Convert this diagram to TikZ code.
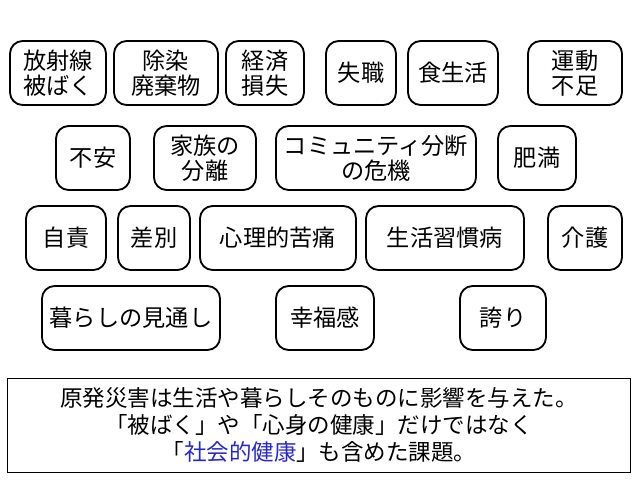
\documentclass[tikz,border=0pt]{standalone}
\usepackage{fontspec}
\setmainfont{Noto Sans CJK JP}
\usetikzlibrary{positioning}
\definecolor{kenkoblue}{RGB}{40,40,200}
\tikzset{issue box/.style={draw,line width=1.3pt,rounded corners=9pt,text centered,
    align=center,inner sep=0pt,font=\fontsize{16.5}{18}\selectfont}, }
\tikzset{summary box/.style={draw,line width=0.6pt,align=center,inner sep=0pt,
    font=\fontsize{16}{19.5}\selectfont}, }
\begin{document}
\begin{tikzpicture}[x=0.025cm,y=-0.025cm]
  \useasboundingbox (0,0) rectangle (640,480);
  % row 1
  \node[issue box,minimum width=2.4cm,minimum height=1.6cm] (hibaku) at (58,73) {放射線\\被ばく};
  \node[issue box,minimum width=2.6cm,minimum height=1.6cm] (josen) at (166,73) {除染\\廃棄物};
  \node[issue box,minimum width=1.95cm,minimum height=1.6cm] (keizai) at (265,73) {経済\\損失};
  \node[issue box,minimum width=1.75cm,minimum height=1.6cm] (shissyoku) at (361,73) {失職};
  \node[issue box,minimum width=2.25cm,minimum height=1.6cm] (shoku) at (453,73) {食生活};
  \node[issue box,minimum width=2.35cm,minimum height=1.6cm] (undou) at (575,73) {運動\\不足};
  % row 2
  \node[issue box,minimum width=1.85cm,minimum height=1.6cm] (fuan) at (93,158) {不安};
  \node[issue box,minimum width=2.55cm,minimum height=1.6cm] (kazoku) at (205,158) {家族の\\分離};
  \node[issue box,minimum width=5cm,minimum height=1.6cm] (community) at (376,158) {コミュニティ分断\\の危機};
  \node[issue box,minimum width=1.95cm,minimum height=1.6cm] (himan) at (537,158) {肥満};
  % row 3
  \node[issue box,minimum width=2cm,minimum height=1.6cm] (jiseki) at (66,238) {自責};
  \node[issue box,minimum width=1.8cm,minimum height=1.6cm] (sabetsu) at (154,238) {差別};
  \node[issue box,minimum width=3.9cm,minimum height=1.6cm] (shinri) at (278,238) {心理的苦痛};
  \node[issue box,minimum width=3.95cm,minimum height=1.6cm] (shuukan) at (445,238) {生活習慣病};
  \node[issue box,minimum width=1.85cm,minimum height=1.6cm] (kaigo) at (585,238) {介護};
  % row 4
  \node[issue box,minimum width=4.45cm,minimum height=1.6cm] (mitoshi) at (131,318) {暮らしの見通し};
  \node[issue box,minimum width=2.45cm,minimum height=1.6cm] (koufuku) at (325,318) {幸福感};
  \node[issue box,minimum width=2.15cm,minimum height=1.6cm] (hokori) at (503,318) {誇り};
  % summary
  \node[summary box,minimum width=15.55cm,minimum height=2.35cm] (summary) at (319,425)
    {原発災害は生活や暮らしそのものに影響を与えた。\\
     「被ばく」や「心身の健康」だけではなく\\
     「{\color{kenkoblue}社会的健康}」も含めた課題。};
\end{tikzpicture}
\end{document}
